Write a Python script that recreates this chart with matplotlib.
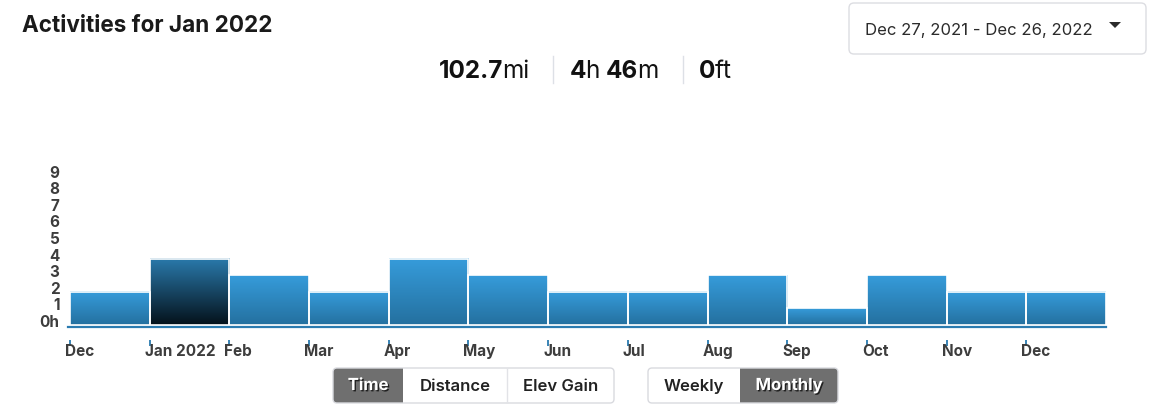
import matplotlib
matplotlib.use("Agg")
import matplotlib.pyplot as plt
import numpy as np
from matplotlib.patches import FancyBboxPatch, Rectangle, Polygon
import matplotlib.patheffects as pe
from matplotlib.colors import LinearSegmentedColormap
from matplotlib.transforms import ScaledTranslation

# ---------------- data ----------------
months = ["Dec", "Jan 2022", "Feb", "Mar", "Apr", "May", "Jun",
          "Jul", "Aug", "Sep", "Oct", "Nov", "Dec"]
hours = [2, 4, 3, 2, 4, 3, 2, 2, 3, 1, 3, 2, 2]
selected_index = 1
ytick_values = list(range(10))
ytick_labels = ["0h"] + [str(v) for v in range(1, 10)]
title = "Activities for Jan 2022"
date_range = "Dec 27, 2021 - Dec 26, 2022"
summary_distance = [("102.7", "bold"), ("mi", "normal")]
summary_time = [("4", "bold"), ("h ", "normal"), ("46", "bold"), ("m", "normal")]
summary_elev = [("0", "bold"), ("ft", "normal")]
metric_buttons = ["Time", "Distance", "Elev Gain"]
period_buttons = ["Weekly", "Monthly"]

plt.rcParams["font.family"] = ["Inter", "DejaVu Sans"]

W, H = 1150, 414
fig = plt.figure(figsize=(W / 100, H / 100), dpi=100)

# ---------------- chart axes ----------------
unit = 16.6
base_y = 326
ax_left, ax_right = 70, 1106
ymax = 9.6
ax = fig.add_axes([ax_left / W, (H - base_y) / H, (ax_right - ax_left) / W, ymax * unit / H])
ax.set_facecolor("none")

normal_cmap = LinearSegmentedColormap.from_list("n", ["#24709f", "#369cdb"])
sel_cmap = LinearSegmentedColormap.from_list("s", ["#04111a", "#2a7aac"])
grad = np.linspace(0, 1, 256).reshape(-1, 1)

for i, h in enumerate(hours):
    cmap = sel_cmap if i == selected_index else normal_cmap
    ax.imshow(grad, extent=(i, i + 1, 0, h), origin="lower", aspect="auto",
              cmap=cmap, interpolation="bilinear", zorder=2)
ax.bar(range(len(hours)), hours, width=1, align="edge", facecolor="none",
       edgecolor="white", linewidth=1.2, zorder=3)

ax.set_xlim(0, len(hours))
ax.set_ylim(0, ymax)
ax.axhline(-2 / unit, xmin=-0.002, xmax=1, color="#2a7bb0", lw=1.6, clip_on=False, zorder=4)

for s in ["top", "right", "left"]:
    ax.spines[s].set_visible(False)
ax.spines["bottom"].set_position(("outward", 11))
ax.spines["bottom"].set_visible(False)

ax.set_xticks(range(len(months)))
ax.set_xticklabels(months)
ax.tick_params(axis="x", direction="out", length=4.5, width=1.3, color="#2a7bb0", pad=-2.5,
               labelsize=11, labelcolor="#3d3d3d")
for lab in ax.get_xticklabels():
    lab.set_ha("left")
    lab.set_fontweight("bold")
    lab.set_transform(lab.get_transform() + ScaledTranslation(-5 / 100, 0, fig.dpi_scale_trans))

ax.set_yticks(ytick_values)
ax.set_yticklabels(ytick_labels)
ax.tick_params(axis="y", length=0, pad=7.5, labelsize=11, labelcolor="#3d3d3d")
for lab in ax.get_yticklabels():
    lab.set_fontweight("bold")
    lab.set_transform(lab.get_transform() + ScaledTranslation(0, 5 / 100, fig.dpi_scale_trans))

# ---------------- overlay UI (pixel coords) ----------------
ov = fig.add_axes([0, 0, 1, 1], zorder=-1)
ov.set_xlim(0, W)
ov.set_ylim(H, 0)
ov.axis("off")

ov.text(22, 25.5, title, fontsize=16.2, fontweight="bold", va="center", ha="left", color="#1a1a1a")

# date dropdown
ov.add_patch(FancyBboxPatch((849, 4), 297, 51, boxstyle="round,pad=0,rounding_size=5",
                            fc="white", ec="#dcdde2", lw=1))
ov.text(865, 30, date_range, fontsize=12, va="center", ha="left", color="#2b2b2b")
ov.add_patch(Polygon([(1109, 23), (1121, 23), (1115, 29)], closed=True, fc="#2b2b2b", ec="none"))

# summary stats
renderer = fig.canvas.get_renderer()


def chain(x, pieces, y=71, size=17.5):
    for txt, weight in pieces:
        t = ov.text(x, y, txt, fontsize=size, fontweight=weight, va="center", ha="left",
                    color="#111111")
        bb = t.get_window_extent(renderer)
        x += bb.width - 1
    return x


chain(439, summary_distance)
chain(570, summary_time)
chain(699, summary_elev)
for sx in (553, 683):
    ov.plot([sx, sx], [57, 84], color="#dde0e6", lw=1)

# buttons
shadow = [pe.withSimplePatchShadow(offset=(1, -1), shadow_rgbFace="black", alpha=0.7)]


def button_group(x0, x1, edges, labels, sel, y0=369, y1=404):
    r = 4
    ov.add_patch(FancyBboxPatch((x0, y0), x1 - x0, y1 - y0,
                                boxstyle=f"round,pad=0,rounding_size={r}",
                                fc="white", ec="none"))
    a, b = edges[sel], edges[sel + 1]
    ov.add_patch(FancyBboxPatch((a, y0), b - a, y1 - y0,
                                boxstyle=f"round,pad=0,rounding_size={r}",
                                fc="#6f6f6f", ec="none"))
    if a > x0:
        ov.add_patch(Rectangle((a, y0), r + 1, y1 - y0, fc="#6f6f6f", ec="none"))
    if b < x1:
        ov.add_patch(Rectangle((b - r - 1, y0), r + 1, y1 - y0, fc="#6f6f6f", ec="none"))
    ov.add_patch(FancyBboxPatch((x0, y0), x1 - x0, y1 - y0,
                                boxstyle=f"round,pad=0,rounding_size={r}",
                                fc="none", ec="#d9dadf", lw=1))
    for e in edges[1:-1]:
        if e not in (a, b):
            ov.plot([e, e], [y0 + 1, y1 - 1], color="#e2e3e7", lw=1)
    for k, lab in enumerate(labels):
        cx = (edges[k] + edges[k + 1]) / 2
        if k == sel:
            ov.text(cx, (y0 + y1) / 2, lab, fontsize=12, fontweight="bold", color="white",
                    ha="center", va="center", path_effects=shadow)
        else:
            ov.text(cx, (y0 + y1) / 2, lab, fontsize=12, fontweight="semibold", color="#222222",
                    ha="center", va="center")


button_group(333, 614, [333, 403, 507, 614], metric_buttons, 0)
button_group(648, 838, [648, 740, 838], period_buttons, 1)

fig.savefig("out.png", dpi=100)
